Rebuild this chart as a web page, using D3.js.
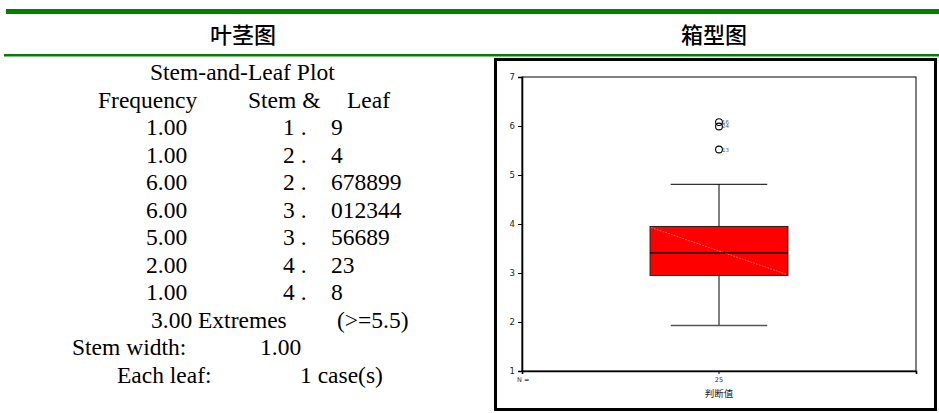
<!doctype html>
<html lang="zh">
<head>
	<meta charset="UTF-8">
	<title>叶茎图 / 箱型图</title>
	<script src="https://d3js.org/d3.v7.min.js"></script>
	<style>
		body { margin: 0; background: #fff; }
		svg { display: block; }
	</style>
</head>
<body>
	<div id="chart"></div>
	<script>
		// ---- data ----
		var freqs  = ['1.00', '1.00', '6.00', '6.00', '5.00', '2.00', '1.00']
		var stems  = ['1', '2', '2', '3', '3', '4', '4']
		var leaves = ['9', '4', '678899', '012344', '56689', '23', '8']

		var groups    = ['25']          // N per box
		var boxMin    = [1.93]
		var boxQ1     = [2.95]
		var boxMedian = [3.41]
		var boxQ3     = [3.95]
		var boxMax    = [4.81]
		var outlierIds  = ['16', '24', '13']
		var outlierVals = [6.08, 5.99, 5.52]
		var yTicks = [1, 2, 3, 4, 5, 6, 7]

		var w = 939, h = 413

		var svg = d3.select('#chart').append('svg')
			.attr('width', w)
			.attr('height', h)

		// green rules + headers
		svg.append('rect').attr('x', 6).attr('y', 9).attr('width', w - 6).attr('height', 5).attr('fill', '#008000')
		svg.append('rect').attr('x', 4).attr('y', 54).attr('width', w - 4).attr('height', 2.5).attr('fill', '#008000')

		var cjk = '"Noto Sans CJK SC", sans-serif'
		svg.append('text').attr('x', 243).attr('y', 43).attr('text-anchor', 'middle')
			.style('font-family', cjk).style('font-size', '22px').style('font-weight', 500).text('叶茎图')
		svg.append('text').attr('x', 714).attr('y', 43).attr('text-anchor', 'middle')
			.style('font-family', cjk).style('font-size', '22px').style('font-weight', 500).text('箱型图')

		/* ---------------------------- stem-and-leaf text --------------------------- */
		var serif = '"Liberation Serif", "Times New Roman", serif'
		var lineH = 27.5, firstLine = 80

		function txt(x, row, s) {
			svg.append('text')
				.attr('x', x)
				.attr('y', firstLine + row * lineH)
				.style('font-family', serif)
				.style('font-size', '23.5px')
				.attr('fill', '#000')
				.attr('xml:space', 'preserve')
				.text(s)
		}

		txt(150, 0, 'Stem-and-Leaf Plot')
		txt(98, 1, 'Frequency')
		txt(248, 1, 'Stem &')
		txt(347, 1, 'Leaf')
		for (var i = 0; i < freqs.length; i++) {
			txt(146, i + 2, freqs[i])
			txt(283, i + 2, stems[i] + ' .')
			txt(331, i + 2, leaves[i])
		}
		txt(151, 9, '3.00 Extremes')
		txt(337, 9, '(>=5.5)')
		txt(72, 10, 'Stem width:')
		txt(260, 10, '1.00')
		txt(117, 11, 'Each leaf:')
		txt(300, 11, '1 case(s)')

		/* --------------------------------- box plot -------------------------------- */
		svg.append('rect')
			.attr('x', 495.5).attr('y', 59.5).attr('width', 440).attr('height', 350)
			.attr('fill', 'none').attr('stroke', '#000').attr('stroke-width', 3)

		var x = d3.scaleBand().domain(groups).range([522, 916])
		var y = d3.scaleLinear().domain([1, 7]).range([371, 77])

		var g = svg.append('g')

		// plot frame
		g.append('rect').attr('x', 522).attr('y', 77).attr('width', 394).attr('height', 294)
			.attr('fill', 'none').attr('stroke', '#000').attr('stroke-width', 1)

		var yAxis = g.append('g').attr('transform', 'translate(522,0)')
			.call(d3.axisLeft(y).tickValues(yTicks).tickSize(4).tickPadding(3).tickFormat(d3.format('d')))
		yAxis.select('.domain').attr('stroke-width', 1.6)
		yAxis.selectAll('text').style('font-family', '"DejaVu Sans", sans-serif').style('font-size', '8.5px').attr('fill', '#222')

		var xAxis = g.append('g').attr('transform', 'translate(0,371)')
			.call(d3.axisBottom(x).tickSize(3).tickPadding(3))
		xAxis.select('.domain').attr('stroke-width', 1.6)
		xAxis.selectAll('text').style('font-family', '"DejaVu Sans", sans-serif').style('font-size', '6.5px').attr('fill', '#333')

		g.append('text').attr('x', 517).attr('y', 382)
			.style('font-family', '"DejaVu Sans", sans-serif').style('font-size', '6.5px').attr('fill', '#333').text('N =')
		g.append('text').attr('x', x(groups[0]) + x.bandwidth() / 2).attr('y', 397).attr('text-anchor', 'middle')
			.style('font-family', cjk).style('font-size', '9.5px').attr('fill', '#222').text('判断值')

		groups.forEach(function (k, i) {
			var cx = x(k) + x.bandwidth() / 2
			var bw = x.bandwidth() * 0.35
			var cw = x.bandwidth() * 0.245

			// whiskers
			g.append('line').attr('x1', cx).attr('x2', cx).attr('y1', y(boxQ3[i])).attr('y2', y(boxMax[i]))
				.attr('stroke', '#000').attr('stroke-width', 1)
			g.append('line').attr('x1', cx).attr('x2', cx).attr('y1', y(boxQ1[i])).attr('y2', y(boxMin[i]))
				.attr('stroke', '#000').attr('stroke-width', 1)
			g.append('line').attr('x1', cx - cw / 2).attr('x2', cx + cw / 2).attr('y1', y(boxMax[i])).attr('y2', y(boxMax[i]))
				.attr('stroke', '#000').attr('stroke-width', 1)
			g.append('line').attr('x1', cx - cw / 2).attr('x2', cx + cw / 2).attr('y1', y(boxMin[i])).attr('y2', y(boxMin[i]))
				.attr('stroke', '#555').attr('stroke-width', 1.5)

			// box
			g.append('rect')
				.attr('x', cx - bw / 2).attr('y', y(boxQ3[i]))
				.attr('width', bw).attr('height', y(boxQ1[i]) - y(boxQ3[i]))
				.attr('fill', '#ff0000').attr('stroke', '#222').attr('stroke-width', 1)
			g.append('line')
				.attr('x1', cx - bw / 2 + 1).attr('y1', y(boxQ3[i]) + 1)
				.attr('x2', cx + bw / 2 - 1).attr('y2', y(boxQ1[i]) - 1)
				.attr('stroke', '#ff8a8a').attr('stroke-width', 0.7).attr('stroke-dasharray', '2,1')
			g.append('line').attr('x1', cx - bw / 2).attr('x2', cx + bw / 2)
				.attr('y1', y(boxMedian[i])).attr('y2', y(boxMedian[i]))
				.attr('stroke', '#000').attr('stroke-width', 1.2)

			// outliers
			outlierVals.forEach(function (v, j) {
				g.append('circle').attr('cx', cx).attr('cy', y(v)).attr('r', 3.4)
					.attr('fill', 'none').attr('stroke', '#000').attr('stroke-width', 1.1)
				g.append('text').attr('x', cx + 3).attr('y', y(v) + 2)
					.style('font-family', '"DejaVu Sans", sans-serif').style('font-size', '5.5px').attr('fill', '#555')
					.text(outlierIds[j])
			})
		})
	</script>
</body>
</html>
